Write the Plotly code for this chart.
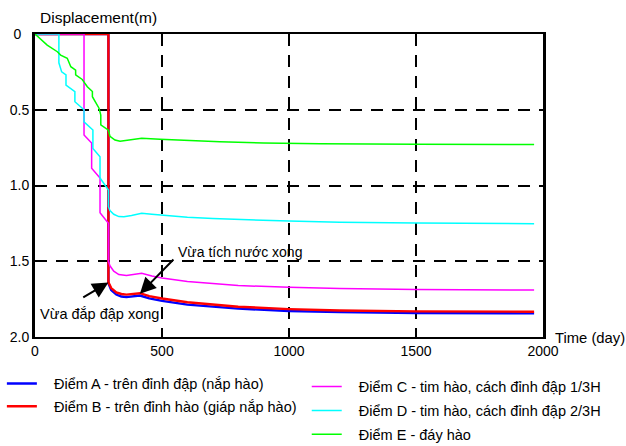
import plotly.graph_objects as go

# ---- data (time in days, displacement in m) ----
t_A = [0, 289, 289, 300, 320, 340, 360, 380, 400, 413, 450, 500, 600, 700, 800, 1000, 1200, 1500, 1965]
d_A = [0, 0, 1.645, 1.69, 1.72, 1.733, 1.737, 1.733, 1.727, 1.726, 1.745, 1.762, 1.786, 1.801, 1.813, 1.828, 1.836, 1.842, 1.844]

t_B = [0, 289, 289, 300, 320, 340, 360, 380, 400, 413, 450, 500, 600, 700, 800, 1000, 1200, 1500, 1965]
d_B = [0, 0, 1.638, 1.677, 1.706, 1.716, 1.72, 1.716, 1.712, 1.711, 1.73, 1.746, 1.771, 1.788, 1.8, 1.816, 1.825, 1.831, 1.833]

t_C = [0, 193, 193, 223, 223, 256, 256, 289, 289, 295, 310, 330, 360, 390, 420, 460, 500, 600, 700, 800, 1000, 1200, 1500, 1965]
d_C = [0, 0, 0.667, 0.72, 0.886, 0.95, 1.18, 1.25, 1.50, 1.53, 1.565, 1.588, 1.594, 1.588, 1.58, 1.597, 1.61, 1.633, 1.648, 1.66, 1.672, 1.68, 1.686, 1.69]

t_D = [0, 94, 94, 105, 122, 122, 157, 157, 193, 193, 228, 228, 256, 256, 289, 289, 295, 310, 330, 350, 380, 420, 460, 500, 600, 700, 800, 1000, 1200, 1500, 1965]
d_D = [0, 0, 0.19, 0.25, 0.27, 0.337, 0.38, 0.447, 0.50, 0.58, 0.634, 0.755, 0.81, 0.95, 1.03, 1.14, 1.165, 1.19, 1.205, 1.207, 1.198, 1.183, 1.19, 1.197, 1.21, 1.218, 1.225, 1.235, 1.242, 1.248, 1.252]

t_E = [0, 48, 88, 101, 127, 141, 160, 160, 186, 206, 226, 226, 252, 259, 259, 278, 289, 295, 315, 335, 374, 420, 492, 600, 728, 900, 1122, 1500, 1965]
d_E = [0, 0.073, 0.117, 0.139, 0.16, 0.216, 0.238, 0.27, 0.30, 0.348, 0.38, 0.414, 0.49, 0.535, 0.60, 0.62, 0.635, 0.675, 0.70, 0.708, 0.70, 0.688, 0.695, 0.705, 0.712, 0.72, 0.725, 0.728, 0.73]

names = [
    "Điểm A - trên đỉnh đập (nắp hào)",
    "Điểm B - trên đỉnh hào (giáp nắp hào)",
    "Điểm C - tim hào, cách đỉnh đập 1/3H",
    "Điểm D - tim hào, cách đỉnh đập 2/3H",
    "Điểm E - đáy hào",
]

x_ticks = [0, 500, 1000, 1500, 2000]
y_ticks = [0, 0.5, 1.0, 1.5, 2.0]
y_ticktext = ["0\u00a0\u00a0", "0.5", "1.0", "1.5", "2.0"]

# annotation points (day, displacement)
fill_done = (289, 1.64)
fill_tail = (184, 1.745)
water_done = (413, 1.715)
water_tail = (551, 1.478)

FONT = "Liberation Sans, Arial, sans-serif"
PAD = "\u00a0\u00a0\u00a0"  # gap between legend line and legend text

fig = go.Figure()
series = [
    (t_A, d_A, "#0000FF", 2.4, "legend"),
    (t_B, d_B, "#FF0000", 2.4, "legend"),
    (t_C, d_C, "#FF00FF", 1.5, "legend2"),
    (t_D, d_D, "#00FFFF", 1.5, "legend2"),
    (t_E, d_E, "#00FF00", 1.5, "legend2"),
]
for (t, d, c, w, lg), nm in zip(series, names):
    fig.add_trace(go.Scatter(x=t, y=d, mode="lines", name=PAD + nm,
                             line=dict(color=c, width=w),
                             legend=lg, legendgroup=nm))

fig.update_layout(
    width=626, height=446,
    margin=dict(l=35, r=83, t=34, b=109, autoexpand=False),
    paper_bgcolor="white", plot_bgcolor="white",
    font=dict(family=FONT, size=14, color="black"),
    xaxis=dict(range=[0, 2000], tickvals=x_ticks, showline=True, linewidth=2,
               linecolor="black", mirror=True, ticks="inside", ticklen=8,
               tickwidth=2, tickcolor="black", showgrid=True, gridcolor="black",
               gridwidth=2, griddash="12px,9px", zeroline=False, layer="below traces"),
    yaxis=dict(range=[2.0, 0], tickvals=y_ticks, ticktext=y_ticktext,
               showline=True, linewidth=3, linecolor="black", mirror=True,
               ticks="", showgrid=True, gridcolor="black", gridwidth=2,
               griddash="12px,9px", zeroline=False, layer="below traces"),
    legend=dict(xref="container", yref="container", x=0.003, y=0.176,
                xanchor="left", yanchor="top", font=dict(size=14.5),
                tracegroupgap=1, bgcolor="rgba(0,0,0,0)"),
    legend2=dict(xref="container", yref="container", x=0.490, y=0.169,
                 xanchor="left", yanchor="top", font=dict(size=14.5),
                 tracegroupgap=2, bgcolor="rgba(0,0,0,0)"),
    showlegend=True,
)

fig.add_annotation(x=0.006, y=1.053, xref="paper", yref="paper", text="Displacement(m)",
                   showarrow=False, xanchor="left", yanchor="middle", font=dict(size=15.5))
fig.add_annotation(x=1.02, y=-0.003, xref="paper", yref="paper", text="Time (day)",
                   showarrow=False, xanchor="left", yanchor="middle", font=dict(size=14.8))

# arrows
for head, tail in [(fill_done, fill_tail), (water_done, water_tail)]:
    fig.add_annotation(x=head[0], y=head[1], ax=tail[0], ay=tail[1],
                       axref="x", ayref="y", text=" ", font=dict(size=1),
                       showarrow=True, arrowhead=2, arrowsize=1.6, arrowwidth=2,
                       arrowcolor="black")
fig.add_annotation(x=10, y=1.848, text="Vừa đắp đập xong", showarrow=False,
                   xanchor="left", yanchor="middle", font=dict(size=14.5))
fig.add_annotation(x=556, y=1.437, text="Vừa tích nước xong", showarrow=False,
                   xanchor="left", yanchor="middle", font=dict(size=14))

fig.write_html("out.html")
